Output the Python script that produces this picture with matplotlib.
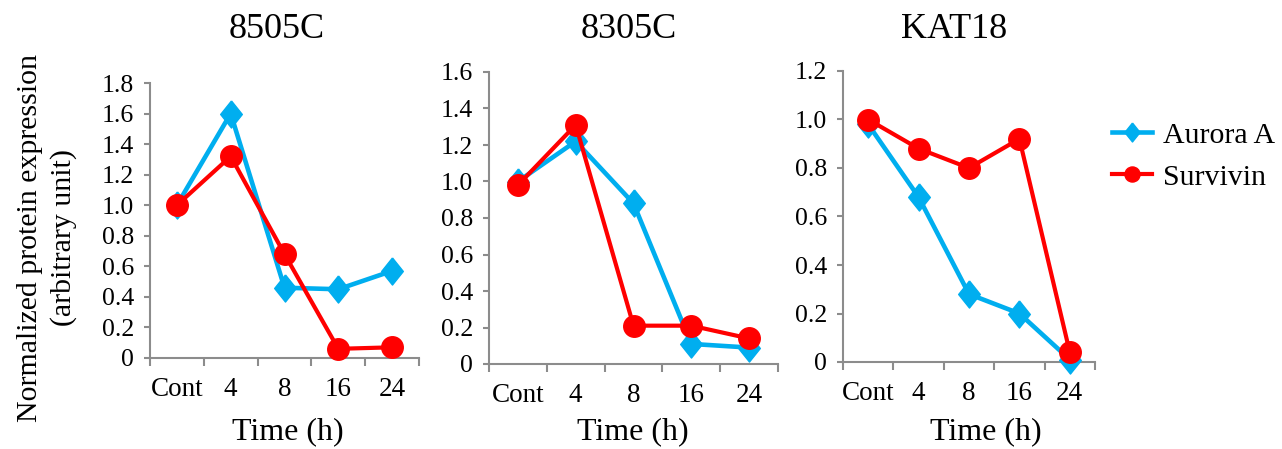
import matplotlib
matplotlib.use("Agg")
import matplotlib.pyplot as plt
from matplotlib.ticker import MultipleLocator, FixedLocator

plt.rcParams['font.family'] = ['Liberation Serif', 'DejaVu Serif']

categories = ["Cont", "4", "8", "16", "24"]
titles = ["8505C", "8305C", "KAT18"]
aurora = [
    [1.00, 1.60, 0.46, 0.45, 0.57],
    [1.00, 1.22, 0.88, 0.11, 0.09],
    [0.98, 0.68, 0.28, 0.20, 0.01],
]
survivin = [
    [1.00, 1.32, 0.68, 0.06, 0.07],
    [0.98, 1.31, 0.21, 0.21, 0.14],
    [1.00, 0.88, 0.80, 0.92, 0.04],
]
ymax = [1.8, 1.6, 1.2]
series_names = ["Aurora A", "Survivin"]
ylabel_lines = ["Normalized protein expression", "(arbitrary unit)"]

W, H = 1282, 449
fig = plt.figure(figsize=(W / 100, H / 100), dpi=100)

# axes boxes in pixels: left, right, top(at ymax), bottom(at 0)
boxes = [(150, 419, 83, 358), (489, 778, 72, 364), (843, 1095, 71, 362)]
title_x = [277, 629, 954]
xlab_x = [288, 633, 986]

blue = '#00AEEF'
red = '#FF0000'
gray = '#8C8C8C'
diamond = [(0, 1), (0.8, 0), (0, -1), (-0.8, 0), (0, 1)]

axes = []
for i, (l, r, t, b) in enumerate(boxes):
    ax = fig.add_axes([l / W, 1 - b / H, (r - l) / W, (b - t) / H])
    axes.append(ax)
    x = list(range(1, len(categories) + 1))
    la, = ax.plot(x, aurora[i], color=blue, lw=3.3, marker=diamond, ms=19.5,
                  mec=blue, mfc=blue, label=series_names[0], zorder=3)
    ls, = ax.plot(x, survivin[i], color=red, lw=3, marker='o', ms=15.5,
                  mec=red, mfc=red, label=series_names[1], zorder=4)
    ax.set_xlim(0.5, len(categories) + 0.5)
    ax.set_ylim(0, ymax[i])
    ax.yaxis.set_major_locator(MultipleLocator(0.2))
    ax.set_yticklabels([("0" if abs(v) < 1e-9 else f"{v:.1f}") for v in ax.get_yticks()])
    ax.set_xticks(x)
    ax.set_xticklabels(categories)
    ax.xaxis.set_minor_locator(FixedLocator([k + 0.5 for k in range(0, len(categories) + 1)]))
    ax.tick_params(axis='x', which='major', length=0, pad=14, labelsize=19.5)
    ax.tick_params(axis='x', which='minor', length=6, width=1.5, color=gray, direction='out')
    ax.tick_params(axis='y', which='major', length=4.5, width=1.5, color=gray,
                   direction='out', pad=7, labelsize=18.5)
    for s in ['top', 'right']:
        ax.spines[s].set_visible(False)
    for s in ['left', 'bottom']:
        ax.spines[s].set_color(gray)
        ax.spines[s].set_linewidth(1.5)
    for ln in (la, ls):
        ln.set_clip_on(False)
    fig.text(title_x[i] / W, 1 - 38 / H, titles[i], ha='center', va='baseline', fontsize=26)
    fig.text(xlab_x[i] / W, 1 - 439 / H, "Time (h)", ha='center', va='baseline', fontsize=23)

fig.text(30 / W, 1 - 238 / H, ylabel_lines[0], rotation=90, ha='center', va='center',
         fontsize=21.5)
fig.text(64 / W, 1 - 238 / H, ylabel_lines[1], rotation=90, ha='center', va='center',
         fontsize=21.5)

handles, labels = axes[2].get_legend_handles_labels()
fig.legend(handles, labels, loc='upper left', bbox_to_anchor=(1100 / W, 1 - 110 / H),
           frameon=False, fontsize=21.5, handlelength=1.35, handletextpad=0.35,
           labelspacing=0.5, borderaxespad=0, markerscale=0.7)

fig.savefig("out.png", dpi=100)
